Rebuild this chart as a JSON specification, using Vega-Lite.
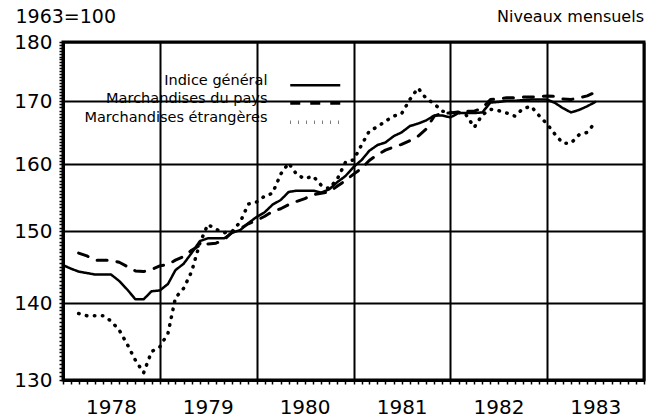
{
"$schema":"https://vega.github.io/schema/vega-lite/v6.json",
"width":581,"height":338,
"autosize":{"type":"none"},
"padding":{"left":63,"top":42,"right":14,"bottom":39},
"background":"white",
"config":{"font":"DejaVu Sans","view":{"stroke":"black","strokeWidth":3},
 "axis":{"labelFont":"DejaVu Sans","labelColor":"black","domainColor":"black","tickColor":"black","gridColor":"black","ticks":true}},
"title":{"text":"Niveaux mensuels","anchor":"end","frame":"group","fontSize":16,"fontWeight":"normal","color":"black","font":"DejaVu Sans","offset":-4,"dy":14},
"data":{"values":[
{"date":"1978-01-01","series":"Indice général","value":145.2},
{"date":"1978-02-01","series":"Indice général","value":144.7},
{"date":"1978-03-01","series":"Indice général","value":144.3},
{"date":"1978-04-01","series":"Indice général","value":144.1},
{"date":"1978-05-01","series":"Indice général","value":143.9},
{"date":"1978-06-01","series":"Indice général","value":143.9},
{"date":"1978-07-01","series":"Indice général","value":143.9},
{"date":"1978-08-01","series":"Indice général","value":143.0},
{"date":"1978-09-01","series":"Indice général","value":141.8},
{"date":"1978-10-01","series":"Indice général","value":140.5},
{"date":"1978-11-01","series":"Indice général","value":140.5},
{"date":"1978-12-01","series":"Indice général","value":141.6},
{"date":"1979-01-01","series":"Indice général","value":141.7},
{"date":"1979-02-01","series":"Indice général","value":142.6},
{"date":"1979-03-01","series":"Indice général","value":144.5},
{"date":"1979-04-01","series":"Indice général","value":145.4},
{"date":"1979-05-01","series":"Indice général","value":146.9},
{"date":"1979-06-01","series":"Indice général","value":148.6},
{"date":"1979-07-01","series":"Indice général","value":149.0},
{"date":"1979-08-01","series":"Indice général","value":149.0},
{"date":"1979-09-01","series":"Indice général","value":149.0},
{"date":"1979-10-01","series":"Indice général","value":149.8},
{"date":"1979-11-01","series":"Indice général","value":150.2},
{"date":"1979-12-01","series":"Indice général","value":151.2},
{"date":"1980-01-01","series":"Indice général","value":152.1},
{"date":"1980-02-01","series":"Indice général","value":152.8},
{"date":"1980-03-01","series":"Indice général","value":153.9},
{"date":"1980-04-01","series":"Indice général","value":154.6},
{"date":"1980-05-01","series":"Indice général","value":155.8},
{"date":"1980-06-01","series":"Indice général","value":156.0},
{"date":"1980-07-01","series":"Indice général","value":156.0},
{"date":"1980-08-01","series":"Indice général","value":156.0},
{"date":"1980-09-01","series":"Indice général","value":155.7},
{"date":"1980-10-01","series":"Indice général","value":156.2},
{"date":"1980-11-01","series":"Indice général","value":157.3},
{"date":"1980-12-01","series":"Indice général","value":158.2},
{"date":"1981-01-01","series":"Indice général","value":159.6},
{"date":"1981-02-01","series":"Indice général","value":160.7},
{"date":"1981-03-01","series":"Indice général","value":162.1},
{"date":"1981-04-01","series":"Indice général","value":163.0},
{"date":"1981-05-01","series":"Indice général","value":163.4},
{"date":"1981-06-01","series":"Indice général","value":164.4},
{"date":"1981-07-01","series":"Indice général","value":165.0},
{"date":"1981-08-01","series":"Indice général","value":166.0},
{"date":"1981-09-01","series":"Indice général","value":166.4},
{"date":"1981-10-01","series":"Indice général","value":166.9},
{"date":"1981-11-01","series":"Indice général","value":167.7},
{"date":"1981-12-01","series":"Indice général","value":167.7},
{"date":"1982-01-01","series":"Indice général","value":167.4},
{"date":"1982-02-01","series":"Indice général","value":168.1},
{"date":"1982-03-01","series":"Indice général","value":168.1},
{"date":"1982-04-01","series":"Indice général","value":168.1},
{"date":"1982-05-01","series":"Indice général","value":168.2},
{"date":"1982-06-01","series":"Indice général","value":169.8},
{"date":"1982-07-01","series":"Indice général","value":169.9},
{"date":"1982-08-01","series":"Indice général","value":170.1},
{"date":"1982-09-01","series":"Indice général","value":170.1},
{"date":"1982-10-01","series":"Indice général","value":170.2},
{"date":"1982-11-01","series":"Indice général","value":170.3},
{"date":"1982-12-01","series":"Indice général","value":170.3},
{"date":"1983-01-01","series":"Indice général","value":170.3},
{"date":"1983-02-01","series":"Indice général","value":169.7},
{"date":"1983-03-01","series":"Indice général","value":168.9},
{"date":"1983-04-01","series":"Indice général","value":168.2},
{"date":"1983-05-01","series":"Indice général","value":168.6},
{"date":"1983-06-01","series":"Indice général","value":169.2},
{"date":"1983-07-01","series":"Indice général","value":169.9},
{"date":"1978-03-01","series":"Marchandises du pays","value":146.9},
{"date":"1978-04-01","series":"Marchandises du pays","value":146.5},
{"date":"1978-05-01","series":"Marchandises du pays","value":145.9},
{"date":"1978-06-01","series":"Marchandises du pays","value":145.9},
{"date":"1978-07-01","series":"Marchandises du pays","value":145.9},
{"date":"1978-08-01","series":"Marchandises du pays","value":145.6},
{"date":"1978-09-01","series":"Marchandises du pays","value":145.0},
{"date":"1978-10-01","series":"Marchandises du pays","value":144.4},
{"date":"1978-11-01","series":"Marchandises du pays","value":144.3},
{"date":"1978-12-01","series":"Marchandises du pays","value":144.6},
{"date":"1979-01-01","series":"Marchandises du pays","value":145.1},
{"date":"1979-02-01","series":"Marchandises du pays","value":145.3},
{"date":"1979-03-01","series":"Marchandises du pays","value":145.9},
{"date":"1979-04-01","series":"Marchandises du pays","value":146.4},
{"date":"1979-05-01","series":"Marchandises du pays","value":147.3},
{"date":"1979-06-01","series":"Marchandises du pays","value":148.0},
{"date":"1979-07-01","series":"Marchandises du pays","value":148.2},
{"date":"1979-08-01","series":"Marchandises du pays","value":148.3},
{"date":"1979-09-01","series":"Marchandises du pays","value":148.8},
{"date":"1979-10-01","series":"Marchandises du pays","value":149.9},
{"date":"1979-11-01","series":"Marchandises du pays","value":150.4},
{"date":"1979-12-01","series":"Marchandises du pays","value":151.1},
{"date":"1980-01-01","series":"Marchandises du pays","value":151.6},
{"date":"1980-02-01","series":"Marchandises du pays","value":152.2},
{"date":"1980-03-01","series":"Marchandises du pays","value":152.9},
{"date":"1980-04-01","series":"Marchandises du pays","value":153.3},
{"date":"1980-05-01","series":"Marchandises du pays","value":153.9},
{"date":"1980-06-01","series":"Marchandises du pays","value":154.4},
{"date":"1980-07-01","series":"Marchandises du pays","value":154.8},
{"date":"1980-08-01","series":"Marchandises du pays","value":155.4},
{"date":"1980-09-01","series":"Marchandises du pays","value":155.6},
{"date":"1980-10-01","series":"Marchandises du pays","value":155.8},
{"date":"1980-11-01","series":"Marchandises du pays","value":156.7},
{"date":"1980-12-01","series":"Marchandises du pays","value":157.5},
{"date":"1981-01-01","series":"Marchandises du pays","value":158.5},
{"date":"1981-02-01","series":"Marchandises du pays","value":159.4},
{"date":"1981-03-01","series":"Marchandises du pays","value":160.6},
{"date":"1981-04-01","series":"Marchandises du pays","value":161.5},
{"date":"1981-05-01","series":"Marchandises du pays","value":162.2},
{"date":"1981-06-01","series":"Marchandises du pays","value":162.7},
{"date":"1981-07-01","series":"Marchandises du pays","value":163.1},
{"date":"1981-08-01","series":"Marchandises du pays","value":163.7},
{"date":"1981-09-01","series":"Marchandises du pays","value":164.4},
{"date":"1981-10-01","series":"Marchandises du pays","value":165.5},
{"date":"1981-11-01","series":"Marchandises du pays","value":167.6},
{"date":"1981-12-01","series":"Marchandises du pays","value":168.1},
{"date":"1982-01-01","series":"Marchandises du pays","value":168.1},
{"date":"1982-02-01","series":"Marchandises du pays","value":168.3},
{"date":"1982-03-01","series":"Marchandises du pays","value":168.4},
{"date":"1982-04-01","series":"Marchandises du pays","value":168.4},
{"date":"1982-05-01","series":"Marchandises du pays","value":168.9},
{"date":"1982-06-01","series":"Marchandises du pays","value":170.3},
{"date":"1982-07-01","series":"Marchandises du pays","value":170.4},
{"date":"1982-08-01","series":"Marchandises du pays","value":170.6},
{"date":"1982-09-01","series":"Marchandises du pays","value":170.6},
{"date":"1982-10-01","series":"Marchandises du pays","value":170.7},
{"date":"1982-11-01","series":"Marchandises du pays","value":170.7},
{"date":"1982-12-01","series":"Marchandises du pays","value":170.8},
{"date":"1983-01-01","series":"Marchandises du pays","value":170.9},
{"date":"1983-02-01","series":"Marchandises du pays","value":170.8},
{"date":"1983-03-01","series":"Marchandises du pays","value":170.4},
{"date":"1983-04-01","series":"Marchandises du pays","value":170.3},
{"date":"1983-05-01","series":"Marchandises du pays","value":170.6},
{"date":"1983-06-01","series":"Marchandises du pays","value":170.9},
{"date":"1983-07-01","series":"Marchandises du pays","value":171.5},
{"date":"1978-03-01","series":"Marchandises étrangères","value":138.6},
{"date":"1978-04-01","series":"Marchandises étrangères","value":138.3},
{"date":"1978-05-01","series":"Marchandises étrangères","value":138.3},
{"date":"1978-06-01","series":"Marchandises étrangères","value":138.3},
{"date":"1978-07-01","series":"Marchandises étrangères","value":137.6},
{"date":"1978-08-01","series":"Marchandises étrangères","value":136.4},
{"date":"1978-09-01","series":"Marchandises étrangères","value":134.5},
{"date":"1978-10-01","series":"Marchandises étrangères","value":132.5},
{"date":"1978-11-01","series":"Marchandises étrangères","value":130.9},
{"date":"1978-12-01","series":"Marchandises étrangères","value":133.6},
{"date":"1979-01-01","series":"Marchandises étrangères","value":134.2},
{"date":"1979-02-01","series":"Marchandises étrangères","value":136.0},
{"date":"1979-03-01","series":"Marchandises étrangères","value":140.7},
{"date":"1979-04-01","series":"Marchandises étrangères","value":142.0},
{"date":"1979-05-01","series":"Marchandises étrangères","value":144.3},
{"date":"1979-06-01","series":"Marchandises étrangères","value":148.3},
{"date":"1979-07-01","series":"Marchandises étrangères","value":151.0},
{"date":"1979-08-01","series":"Marchandises étrangères","value":150.3},
{"date":"1979-09-01","series":"Marchandises étrangères","value":149.8},
{"date":"1979-10-01","series":"Marchandises étrangères","value":150.0},
{"date":"1979-11-01","series":"Marchandises étrangères","value":151.4},
{"date":"1979-12-01","series":"Marchandises étrangères","value":154.0},
{"date":"1980-01-01","series":"Marchandises étrangères","value":154.3},
{"date":"1980-02-01","series":"Marchandises étrangères","value":155.2},
{"date":"1980-03-01","series":"Marchandises étrangères","value":155.6},
{"date":"1980-04-01","series":"Marchandises étrangères","value":158.5},
{"date":"1980-05-01","series":"Marchandises étrangères","value":160.2},
{"date":"1980-06-01","series":"Marchandises étrangères","value":158.4},
{"date":"1980-07-01","series":"Marchandises étrangères","value":157.8},
{"date":"1980-08-01","series":"Marchandises étrangères","value":158.2},
{"date":"1980-09-01","series":"Marchandises étrangères","value":156.8},
{"date":"1980-10-01","series":"Marchandises étrangères","value":156.3},
{"date":"1980-11-01","series":"Marchandises étrangères","value":157.8},
{"date":"1980-12-01","series":"Marchandises étrangères","value":160.3},
{"date":"1981-01-01","series":"Marchandises étrangères","value":160.7},
{"date":"1981-02-01","series":"Marchandises étrangères","value":163.1},
{"date":"1981-03-01","series":"Marchandises étrangères","value":165.2},
{"date":"1981-04-01","series":"Marchandises étrangères","value":165.9},
{"date":"1981-05-01","series":"Marchandises étrangères","value":166.8},
{"date":"1981-06-01","series":"Marchandises étrangères","value":167.6},
{"date":"1981-07-01","series":"Marchandises étrangères","value":168.0},
{"date":"1981-08-01","series":"Marchandises étrangères","value":170.3},
{"date":"1981-09-01","series":"Marchandises étrangères","value":172.2},
{"date":"1981-10-01","series":"Marchandises étrangères","value":170.5},
{"date":"1981-11-01","series":"Marchandises étrangères","value":169.6},
{"date":"1981-12-01","series":"Marchandises étrangères","value":168.4},
{"date":"1982-01-01","series":"Marchandises étrangères","value":168.2},
{"date":"1982-02-01","series":"Marchandises étrangères","value":168.2},
{"date":"1982-03-01","series":"Marchandises étrangères","value":167.8},
{"date":"1982-04-01","series":"Marchandises étrangères","value":165.8},
{"date":"1982-05-01","series":"Marchandises étrangères","value":167.8},
{"date":"1982-06-01","series":"Marchandises étrangères","value":168.7},
{"date":"1982-07-01","series":"Marchandises étrangères","value":168.5},
{"date":"1982-08-01","series":"Marchandises étrangères","value":168.1},
{"date":"1982-09-01","series":"Marchandises étrangères","value":167.6},
{"date":"1982-10-01","series":"Marchandises étrangères","value":168.8},
{"date":"1982-11-01","series":"Marchandises étrangères","value":169.2},
{"date":"1982-12-01","series":"Marchandises étrangères","value":167.7},
{"date":"1983-01-01","series":"Marchandises étrangères","value":166.3},
{"date":"1983-02-01","series":"Marchandises étrangères","value":164.6},
{"date":"1983-03-01","series":"Marchandises étrangères","value":163.3},
{"date":"1983-04-01","series":"Marchandises étrangères","value":163.3},
{"date":"1983-05-01","series":"Marchandises étrangères","value":164.6},
{"date":"1983-06-01","series":"Marchandises étrangères","value":165.0},
{"date":"1983-07-01","series":"Marchandises étrangères","value":166.6}
]},
"mark":{"type":"line","color":"black","strokeCap":"round","strokeJoin":"round"},
"encoding":{
 "x":{"field":"date","type":"temporal",
  "scale":{"type":"utc","domain":[{"year":1978,"month":1,"date":1,"utc":true},{"year":1984,"month":1,"date":1,"utc":true}]},
  "axis":{"title":null,"tickCount":{"interval":"month","step":1},"domain":true,"domainWidth":3,
   "labelExpr":"utcmonth(datum.value)==0 && utcyear(datum.value)<1984 ? utcFormat(datum.value,'%Y') : ''",
   "labelOffset":48,"labelAlign":"center","labelFlush":false,"labelOverlap":false,"labelBound":false,
   "labelFontSize":20,"labelPadding":13,
   "tickColor":"black","tickSize":4,"tickWidth":1.5,
   "grid":true,"gridWidth":2,
   "gridOpacity":{"condition":{"test":"utcmonth(datum.value)==0","value":1},"value":0}}},
 "y":{"field":"value","type":"quantitative",
  "scale":{"type":"log","domain":[130,180],"nice":false,"zero":false},
  "axis":{"values":[130,130.5,131,131.5,132,132.5,133,133.5,134,134.5,135,135.5,136,136.5,137,137.5,138,138.5,139,139.5,140,140.5,141,141.5,142,142.5,143,143.5,144,144.5,145,145.5,146,146.5,147,147.5,148,148.5,149,149.5,150,150.5,151,151.5,152,152.5,153,153.5,154,154.5,155,155.5,156,156.5,157,157.5,158,158.5,159,159.5,160,160.5,161,161.5,162,162.5,163,163.5,164,164.5,165,165.5,166,166.5,167,167.5,168,168.5,169,169.5,170,170.5,171,171.5,172,172.5,173,173.5,174,174.5,175,175.5,176,176.5,177,177.5,178,178.5,179,179.5,180],
   "domain":true,"domainWidth":3,
   "labelExpr":"datum.value % 10 == 0 ? format(datum.value,'d') : ''",
   "labelOverlap":false,"labelFlush":false,"labelBound":false,
   "labelFontSize":20,"labelPadding":7,
   "tickColor":"black","tickSize":4,"tickWidth":1.5,
   "grid":true,"gridWidth":2,
   "gridOpacity":{"condition":{"test":"datum.value % 10 == 0","value":1},"value":0},
   "title":"1963=100","titleAngle":0,"titleAlign":"left","titleBaseline":"alphabetic",
   "titleX":-48,"titleY":-20,"titleFontSize":19,"titleFontWeight":"normal","titleColor":"black","titleFont":"DejaVu Sans"}},
 "strokeDash":{"field":"series","type":"nominal",
  "scale":{"domain":["Indice général","Marchandises du pays","Marchandises étrangères"],"range":[[1,0],[10,10],[0.5,7.5]]},
  "legend":{"orient":"none","legendX":245,"legendY":36,"title":null,"symbolType":"M-5,0H5","symbolSize":100,
   "symbolStrokeWidth":1.5,"symbolStrokeColor":"black","symbolFillColor":"transparent","labelFontSize":14.5,"labelFont":"DejaVu Sans","labelColor":"black",
   "labelAlign":"right","labelOffset":-55,"labelBaseline":"alphabetic","rowPadding":0,"labelLimit":400}},
 "strokeWidth":{"field":"series","type":"ordinal",
  "scale":{"domain":["Indice général","Marchandises du pays","Marchandises étrangères"],"range":[2.5,3.5,3]},
  "legend":null}
}
}
